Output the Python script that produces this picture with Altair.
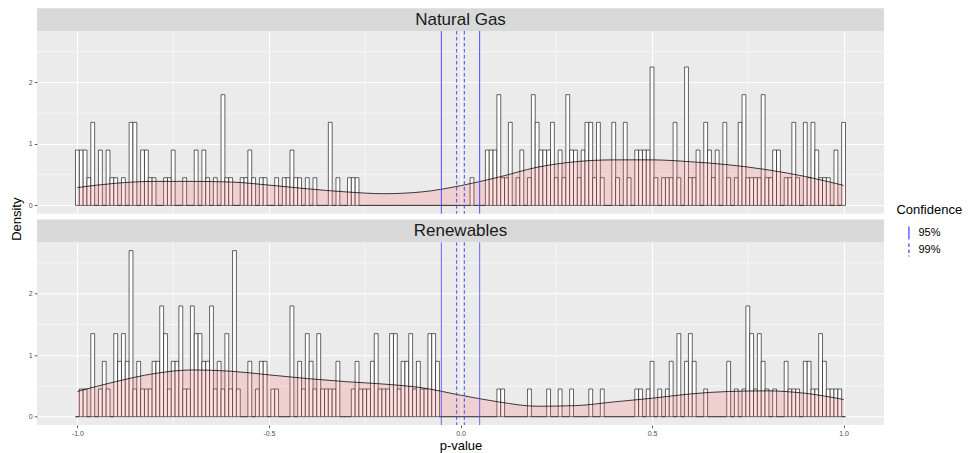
import altair as alt
import pandas as pd

# ---------------- data ----------------
PANELS = ["Natural Gas", "Renewables"]
BIN_WIDTH = 0.01
DENSITY_PER_COUNT = 0.45          # one observation in a 0.01-wide bin
BIN_CENTERS = [round(-1 + 0.01 * i, 2) for i in range(201)]

ng_counts = [
    2, 2, 2, 1, 3, 0, 2, 0, 2, 1,
    1, 0, 1, 0, 3, 3, 0, 2, 2, 1,
    1, 0, 0, 1, 1, 2, 0, 0, 1, 0,
    0, 2, 0, 2, 1, 0, 1, 0, 4, 1,
    1, 0, 0, 1, 1, 2, 1, 0, 1, 1,
    0, 0, 1, 0, 1, 1, 2, 1, 1, 0,
    1, 0, 1, 0, 0, 0, 3, 0, 1, 0,
    0, 1, 1, 1, 0, 0, 0, 0, 0, 0,
    0, 0, 0, 0, 0, 0, 0, 0, 0, 0,
    0, 0, 0, 0, 0, 0, 0, 0, 0, 0,
    0, 0, 0, 1, 0, 0, 0, 2, 2, 2,
    4, 1, 1, 3, 0, 1, 2, 0, 1, 4,
    3, 2, 2, 2, 3, 1, 2, 1, 4, 2,
    2, 1, 2, 3, 3, 1, 3, 1, 0, 0,
    3, 1, 0, 3, 1, 0, 2, 2, 2, 2,
    5, 1, 0, 1, 1, 1, 3, 1, 0, 5,
    1, 1, 2, 0, 3, 2, 1, 2, 0, 3,
    1, 0, 1, 3, 4, 1, 1, 1, 1, 4,
    1, 1, 2, 2, 0, 1, 1, 3, 1, 0,
    3, 1, 3, 2, 1, 1, 1, 0, 2, 0,
    3,
]

re_counts = [
    0, 1, 1, 0, 3, 0, 1, 2, 1, 0,
    3, 2, 3, 2, 6, 1, 2, 1, 1, 1,
    2, 2, 4, 3, 1, 2, 2, 4, 1, 1,
    4, 3, 3, 2, 2, 4, 1, 2, 1, 3,
    1, 6, 1, 0, 0, 2, 0, 1, 2, 2,
    0, 1, 1, 0, 0, 0, 4, 0, 2, 1,
    3, 2, 1, 3, 1, 1, 1, 1, 2, 0,
    0, 0, 1, 2, 1, 1, 1, 2, 3, 1,
    1, 1, 3, 3, 1, 2, 2, 3, 1, 2,
    1, 1, 3, 3, 2, 0, 0, 0, 0, 0,
    0, 0, 0, 0, 0, 0, 0, 0, 0, 0,
    1, 1, 0, 0, 0, 0, 0, 0, 1, 0,
    0, 0, 0, 1, 0, 0, 1, 0, 0, 1,
    0, 0, 0, 0, 1, 0, 0, 1, 0, 0,
    0, 0, 0, 0, 0, 0, 1, 1, 0, 1,
    2, 0, 1, 0, 1, 2, 0, 3, 0, 2,
    3, 2, 0, 0, 1, 0, 0, 0, 0, 0,
    2, 0, 1, 0, 1, 4, 3, 1, 3, 2,
    1, 0, 1, 0, 0, 2, 1, 1, 1, 0,
    2, 2, 1, 1, 3, 2, 1, 1, 1, 1,
    0,
]

density_x = [-1.0, -0.9, -0.8, -0.7, -0.6, -0.5, -0.4, -0.3, -0.2, -0.1, 0.0,
             0.1, 0.2, 0.3, 0.4, 0.5, 0.6, 0.7, 0.8, 0.9, 1.0]
ng_density = [0.29, 0.36, 0.39, 0.39, 0.38, 0.33, 0.27, 0.22, 0.19, 0.22, 0.32,
              0.46, 0.62, 0.71, 0.74, 0.74, 0.71, 0.66, 0.58, 0.47, 0.325]
re_density = [0.41, 0.57, 0.70, 0.76, 0.74, 0.68, 0.62, 0.57, 0.53, 0.47, 0.35,
              0.24, 0.17, 0.18, 0.24, 0.30, 0.37, 0.41, 0.42, 0.38, 0.28]

ci_levels = ["95%", "95%", "99%", "99%"]
ci_values = [-0.05, 0.05, -0.01, 0.01]

x_major = [-1.0, -0.5, 0.0, 0.5, 1.0]
x_minor = [-0.75, -0.25, 0.25, 0.75]
y_major = [0, 1, 2]
y_minor = [0.5, 1.5, 2.5]

# ---------------- tables ----------------
rows = []
for name, counts in zip(PANELS, [ng_counts, re_counts]):
    for c, n in zip(BIN_CENTERS, counts):
        rows.append({"panel": name, "x0": c - BIN_WIDTH / 2, "x1": c + BIN_WIDTH / 2,
                     "density": n * DENSITY_PER_COUNT})
hist_df = pd.DataFrame(rows)

dens_rows = []
for name, ys in zip(PANELS, [ng_density, re_density]):
    for x, y in zip(density_x, ys):
        dens_rows.append({"panel": name, "x": x, "y": y})
dens_df = pd.DataFrame(dens_rows)

ci_df = pd.DataFrame({"level": ci_levels, "x": ci_values})
xminor_df = pd.DataFrame({"x": x_minor})
yminor_df = pd.DataFrame({"y": y_minor})

# ---------------- layout ----------------
W = 847
H = 182.7
STRIP = 22.8
GAP = 5.5
FONT = "Liberation Sans"
CI_BLUE = "#4B4BFF"

x_scale = alt.Scale(domain=[-1.1055, 1.1055], nice=False, zero=False)
y_scale = alt.Scale(domain=[-0.135, 2.835], nice=False, zero=False)

neg_fmt = "datum.value < 0 ? '-' + format(-datum.value, '.1f') : format(datum.value, '.1f')"


def make_panel(name, bottom):
    xaxis = alt.Axis(values=x_major, labelExpr=neg_fmt, grid=True, gridColor="white",
                     gridWidth=1.1, domain=False, ticks=bottom, labels=bottom,
                     tickColor="#333333", tickSize=2.75, tickWidth=0.8,
                     labelFontSize=7, labelColor="#4D4D4D", labelPadding=2,
                     labelFont=FONT,
                     title="p-value" if bottom else None, titleFontSize=13,
                     titleFont=FONT, titleFontWeight="normal", titleColor="black",
                     titlePadding=3)
    yaxis_kwargs = dict(values=y_major, format="d", grid=True, gridColor="white",
                        gridWidth=1.1, domain=False, ticks=True, tickColor="#333333",
                        tickSize=2.75, tickWidth=0.8, labelFontSize=7,
                        labelColor="#4D4D4D", labelPadding=2, labelFont=FONT)
    if bottom:
        yaxis = alt.Axis(title="Density", titleFontSize=13, titleFont=FONT,
                         titleFontWeight="normal", titleColor="black",
                         titlePadding=5, titleY=-23.6, titleAlign="center",
                         titleBaseline="bottom", titleAngle=270,
                         **yaxis_kwargs)
    else:
        yaxis = alt.Axis(title=None, **yaxis_kwargs)

    hist_data = hist_df[hist_df.panel == name]
    dens_data = dens_df[dens_df.panel == name]

    xminor = alt.Chart(xminor_df).mark_rule(color="white", strokeWidth=0.55).encode(
        x=alt.X("x:Q", scale=x_scale, axis=xaxis))
    yminor = alt.Chart(yminor_df).mark_rule(color="white", strokeWidth=0.55).encode(
        y=alt.Y("y:Q", scale=y_scale, axis=yaxis))

    bars = alt.Chart(hist_data).mark_rect(fill="white", stroke="black",
                                          strokeWidth=0.6).encode(
        x=alt.X("x0:Q", scale=x_scale, axis=xaxis),
        x2="x1:Q",
        y=alt.Y("density:Q", scale=y_scale, axis=yaxis),
        y2=alt.datum(0),
    )
    area = alt.Chart(dens_data).mark_area(fill="#FF6666", opacity=0.2,
                                          interpolate="monotone").encode(
        x=alt.X("x:Q", scale=x_scale),
        y=alt.Y("y:Q", scale=y_scale),
        y2=alt.datum(0),
    )
    line = alt.Chart(dens_data).mark_line(color="black", strokeWidth=0.75,
                                          interpolate="monotone").encode(
        x=alt.X("x:Q", scale=x_scale),
        y=alt.Y("y:Q", scale=y_scale),
    )
    rules = alt.Chart(ci_df).mark_rule(color=CI_BLUE, strokeWidth=1).encode(
        x=alt.X("x:Q", scale=x_scale),
        strokeDash=alt.StrokeDash(
            "level:N",
            scale=alt.Scale(domain=["95%", "99%"], range=[[1, 0], [3.5, 2.5]]),
            legend=alt.Legend(title="Confidence", orient="none", legendX=859.4,
                              legendY=173.4, symbolType="M0,-1L0,1", symbolSize=169,
                              symbolStrokeColor=CI_BLUE, symbolStrokeWidth=1.3,
                              symbolOffset=5, labelOffset=2,
                              titleFontSize=13, titleFont=FONT,
                              titleFontWeight="normal", titleColor="black",
                              labelFontSize=11, labelFont=FONT, labelColor="black",
                              rowPadding=-6, titlePadding=8, padding=0),
        ),
    )
    strip_df = pd.DataFrame({"panel": [name]})
    strip = alt.Chart(strip_df).mark_rect(fill="#D9D9D9").encode(
        x=alt.value(0), x2=alt.value(W), y=alt.value(-STRIP), y2=alt.value(0))
    strip_text = alt.Chart(strip_df).mark_text(fontSize=17, font=FONT, color="#1A1A1A",
                                               baseline="middle", align="center").encode(
        x=alt.value(W / 2), y=alt.value(-STRIP / 2), text="panel:N")

    return alt.layer(xminor, yminor, bars, area, line, rules, strip, strip_text).properties(
        width=W, height=H)


chart = alt.vconcat(make_panel("Natural Gas", False), make_panel("Renewables", True),
                    spacing=GAP + STRIP, bounds="flush").properties(
    padding={"left": 2, "top": 0, "right": 0, "bottom": 0}
).configure_view(fill="#EBEBEB", stroke=None)

chart.save("out.html", embed_options={"renderer": "svg", "actions": False})
